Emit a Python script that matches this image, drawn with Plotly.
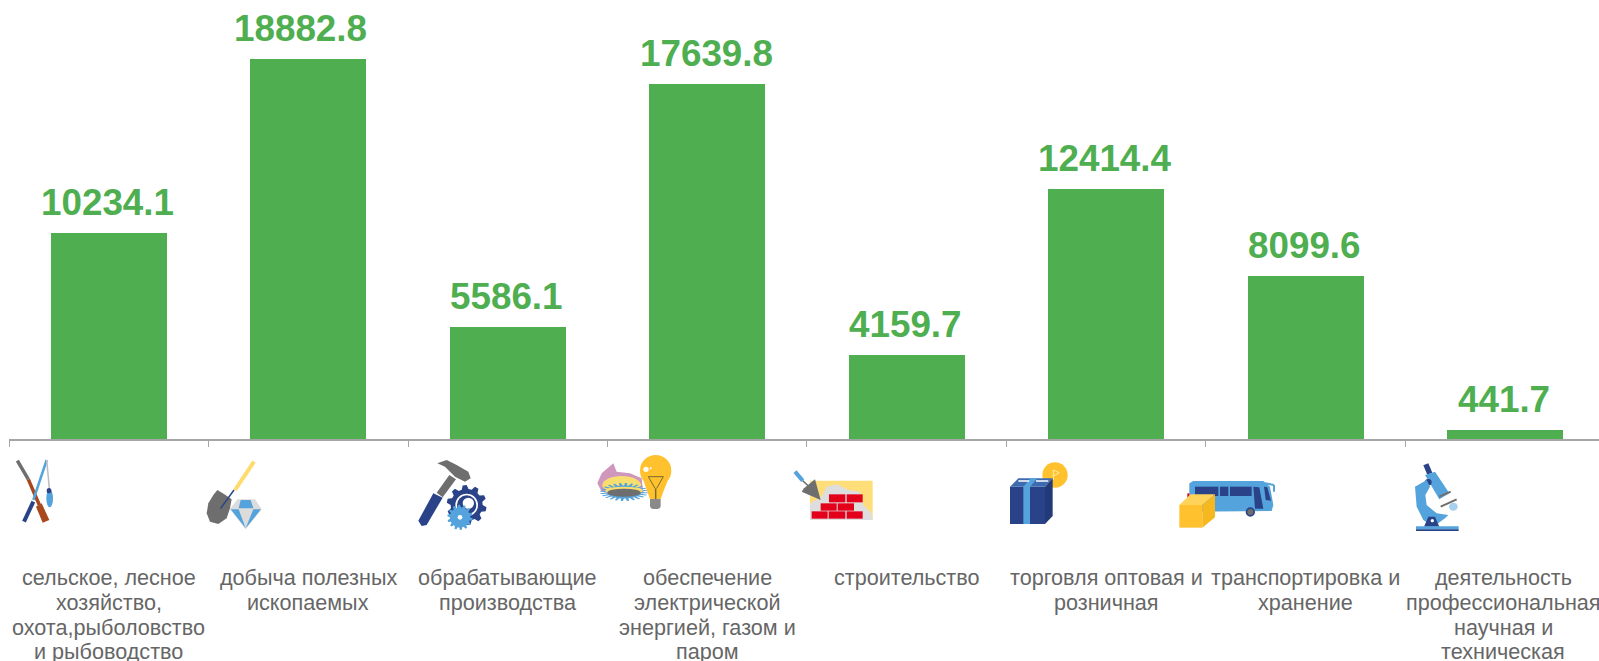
import math
import plotly.graph_objects as go

categories = ["сельское, лесное<br>хозяйство,<br>охота,рыболовство<br>и рыбоводство",
              "добыча полезных<br>ископаемых",
              "обрабатывающие<br>производства",
              "обеспечение<br>электрической<br>энергией, газом и<br>паром",
              "строительство",
              "торговля оптовая и<br>розничная",
              "транспортировка и<br>хранение",
              "деятельность<br>профессиональная<br>научная и<br>техническая"]
values = [10234.1, 18882.8, 5586.1, 17639.8, 4159.7, 12414.4, 8099.6, 441.7]
labels = ["10234.1", "18882.8", "5586.1", "17639.8", "4159.7", "12414.4", "8099.6", "441.7"]
label_nudge = [-1, -8, -1, -1, -1, -1, -1, -1]
cat_nudge = [0, 0, 0, 0, 0, 0, 0, -2]

GREEN = "#4EAE50"
W, H = 1599, 661
L, BASE = 9, 439

def px(zx, off): return (off + zx / 3 - L) / (W - L)
def py(zy): return (BASE - (450 + zy / 3)) / BASE

shapes = []
def poly(off, pts, color):
    d = "M" + " L".join(f"{px(a, off):.5f},{py(b):.5f}" for a, b in pts) + " Z"
    shapes.append(dict(type="path", path=d, xref="paper", yref="paper", fillcolor=color, line_width=0, layer="above"))
def rect(off, a, b, c, d, color):
    poly(off, [(a, b), (c, b), (c, d), (a, d)], color)
def seg(off, a, b, c, d, color, w):
    shapes.append(dict(type="line", x0=px(a, off), y0=py(b), x1=px(c, off), y1=py(d), xref="paper", yref="paper",
                       line=dict(color=color, width=w), layer="above"))
def ell(off, cx, cy, rx, ry, color):
    shapes.append(dict(type="circle", x0=px(cx - rx, off), x1=px(cx + rx, off), y0=py(cy - ry), y1=py(cy + ry),
                       xref="paper", yref="paper", fillcolor=color, line_width=0, layer="above"))
def gear(off, cx, cy, rx, ry, n, color, depth=0.8):
    pts = []
    for i in range(n):
        for frac, r in [(0.0, depth), (0.18, 1.0), (0.5, 1.0), (0.68, depth)]:
            t = 2 * math.pi * (i + frac) / n
            pts.append((cx + rx * r * math.cos(t), cy + ry * r * math.sin(t)))
    poly(off, pts, color)

NAVY, BLUE, GREY, YEL, BROWN, RED = "#2A4388", "#54A3DC", "#6E6E6E", "#FFC22E", "#A8481C", "#E3001B"
# 1 gun, rod and fish
seg(0, 52, 32, 85, 88, GREY, 3.5)
seg(0, 85, 88, 118, 165, BROWN, 3.5)
poly(0, [(108, 170), (125, 160), (148, 210), (128, 218)], BROWN)
seg(0, 140, 30, 100, 150, BLUE, 2.5)
seg(0, 100, 155, 72, 215, NAVY, 4)
seg(0, 140, 30, 148, 115, "#BDBDBD", 1.5)
ell(0, 149, 145, 10, 27, BLUE)
ell(0, 147, 122, 7, 8, NAVY)
# 2 shovel and diamond
seg(0, 762, 35, 705, 120, "#FFDB6E", 4)
poly(0, [(652, 120), (672, 132), (695, 148), (690, 175), (680, 205), (655, 222), (630, 215), (620, 190), (625, 160), (640, 135)], GREY)
seg(0, 702, 120, 662, 175, NAVY, 1.5)
poly(0, [(712, 148), (765, 148), (785, 178), (737, 238), (690, 178)], "#DCDCDC")
poly(0, [(722, 150), (752, 150), (760, 175), (716, 175)], BLUE)
poly(0, [(692, 178), (716, 178), (737, 235)], BLUE)
poly(0, [(760, 178), (783, 178), (737, 235)], BLUE)
# 3 hammer and gears
off = 400
poly(off, [(55, 212), (100, 130), (128, 143), (80, 225), (65, 228)], NAVY)
poly(off, [(110, 128), (148, 75), (168, 88), (128, 142)], GREY)
poly(off, [(112, 40), (140, 30), (170, 45), (205, 65), (212, 85), (195, 95), (165, 80), (135, 50)], GREY)
gear(off, 200, 165, 60, 60, 10, NAVY)
ell(off, 200, 165, 34, 34, "#FFFFFF")
ell(off, 200, 165, 29, 29, NAVY)
ell(off, 205, 160, 17, 17, "#FFFFFF")
gear(off, 180, 202, 38, 38, 14, BLUE)
ell(off, 180, 202, 7, 7, "#FFFFFF")
# 4 flame, burner and bulb
poly(off, [(640, 40), (650, 65), (690, 70), (725, 85), (730, 130), (640, 130), (605, 125), (592, 100), (605, 70)], "#CF97BC")
ell(off, 665, 105, 58, 27, "#F8DE6E")
gear(off, 672, 126, 72, 27, 24, BLUE, 0.72)
ell(off, 672, 122, 56, 12, "#F8DE6E")
ell(off, 672, 128, 50, 12, GREY)
ell(off, 767, 62, 47, 47, YEL)
poly(off, [(728, 85), (806, 85), (790, 125), (782, 147), (750, 147), (742, 125)], YEL)
rect(off, 750, 147, 782, 170, "#8A8A8A")
ell(off, 766, 170, 15, 7, "#8A8A8A")
ell(off, 738, 58, 8, 8, "#FFFFFF")
ell(off, 752, 55, 3, 3, "#FFFFFF")
seg(off, 745, 80, 790, 80, "#7A6A30", 1)
seg(off, 745, 80, 765, 115, "#7A6A30", 1)
seg(off, 790, 80, 770, 115, "#7A6A30", 1)
seg(off, 767, 115, 767, 147, "#7A6A30", 1.5)
# 5 bricks and trowel
off = 780
rect(off, 90, 92, 278, 210, "#FFDE7A")
poly(off, [(90, 210), (90, 160), (125, 140), (140, 110), (170, 103), (205, 120), (240, 125), (250, 165), (275, 190), (278, 210)], "#DEDEDE")
for a, b, c, d in [(147, 133, 196, 157), (200, 133, 248, 157), (122, 160, 170, 182), (173, 160, 222, 182),
                   (95, 184, 143, 206), (146, 184, 196, 206), (200, 184, 248, 206)]:
    rect(off, a, b, c, d, RED)
poly(off, [(105, 88), (122, 150), (65, 125), (72, 115)], GREY)
seg(off, 45, 65, 68, 92, BLUE, 4)
seg(off, 68, 92, 85, 108, GREY, 1.5)
# 6 coin and parcel
ell(off, 825, 75, 38, 38, YEL)
seg(off, 820, 60, 820, 90, "#FFE9A8", 1)
seg(off, 820, 60, 838, 68, "#FFE9A8", 1)
seg(off, 838, 68, 820, 78, "#FFE9A8", 1)
rect(off, 690, 110, 795, 222, NAVY)
poly(off, [(795, 222), (818, 198), (818, 85), (795, 110)], "#223A78")
poly(off, [(690, 110), (715, 85), (818, 85), (795, 110)], "#3E6BB0")
rect(off, 730, 108, 750, 222, BLUE)
poly(off, [(730, 110), (750, 110), (772, 85), (752, 85)], BLUE)
seg(off, 715, 93, 748, 93, "#FFFFFF", 1.5)
seg(off, 768, 93, 805, 93, "#FFFFFF", 1.5)
# 7 bus and box
off = 1170
poly(off, [(58, 100), (70, 93), (280, 93), (300, 110), (310, 165), (305, 183), (58, 185)], BLUE)
seg(off, 285, 100, 312, 105, BLUE, 2)
seg(off, 312, 105, 312, 125, BLUE, 2)
rect(off, 75, 110, 145, 138, NAVY)
rect(off, 150, 110, 175, 138, NAVY)
rect(off, 180, 110, 245, 138, NAVY)
poly(off, [(250, 110), (268, 112), (280, 176), (255, 176)], NAVY)
poly(off, [(282, 110), (292, 112), (303, 152), (287, 150)], NAVY)
ell(off, 241, 186, 14, 14, NAVY)
ell(off, 241, 186, 9, 9, GREY)
rect(off, 52, 130, 58, 142, RED)
rect(off, 28, 165, 97, 233, YEL)
poly(off, [(28, 165), (62, 133), (135, 133), (97, 165)], "#FFD25A")
poly(off, [(97, 165), (135, 133), (135, 202), (97, 233)], "#F6B81F")
# 8 microscope
poly(off, [(760, 46), (775, 40), (787, 68), (772, 74)], NAVY)
poly(off, [(765, 75), (795, 65), (838, 130), (808, 148)], BLUE)
ell(off, 775, 97, 10, 10, NAVY)
poly(off, [(735, 110), (770, 90), (780, 110), (766, 135), (770, 165), (800, 190), (835, 195), (825, 205), (790, 230), (760, 210), (740, 170)], BLUE)
seg(off, 808, 140, 842, 125, GREY, 2)
seg(off, 812, 170, 860, 148, GREY, 2)
ell(off, 850, 170, 13, 12, "#A9D0EE")
poly(off, [(762, 230), (775, 200), (795, 200), (808, 230)], NAVY)
ell(off, 787, 212, 5, 5, "#FFFFFF")
rect(off, 738, 229, 866, 238, BLUE)
rect(off, 738, 238, 866, 243, NAVY)

annotations = []
for cat, val, lab, nudge, cn in zip(categories, values, labels, label_nudge, cat_nudge):
    annotations.append(dict(x=cat, y=val, xref="x", yref="y", text=lab, showarrow=False, yanchor="bottom", yshift=8,
                            xshift=nudge, font=dict(family="Liberation Sans", size=36.8, color=GREEN, weight="bold")))
    for k, line in enumerate(cat.split("<br>")):
        annotations.append(dict(x=cat, y=0, xref="x", yref="y", text=line, showarrow=False, yanchor="middle",
                                yshift=-(138.5 + 24.8 * k), xshift=cn,
                                font=dict(family="Liberation Sans", size=21.6, color="#666666")))

fig = go.Figure(go.Bar(x=categories, y=values, width=0.583, marker=dict(color=GREEN, line_width=0), hoverinfo="skip"))
fig.update_layout(width=W, height=H, margin=dict(l=L, r=0, t=0, b=H - BASE, autoexpand=False),
                  paper_bgcolor="white", plot_bgcolor="white", showlegend=False, shapes=shapes, annotations=annotations,
                  bargap=0, font=dict(family="Liberation Sans"))
fig.update_xaxes(type="category", range=[-0.5, 7.47], tickson="boundaries", ticks="outside", ticklen=6,
                 tickcolor="#A6A6A6", tickwidth=1, showline=True, linecolor="#A6A6A6", linewidth=2,
                 showgrid=False, showticklabels=False)
fig.update_yaxes(range=[0, 21830], visible=False, showgrid=False, zeroline=False)
fig.write_html("out.html", config={"displayModeBar": False},
               post_script="document.body.style.margin='0';document.documentElement.style.overflow='hidden';")
